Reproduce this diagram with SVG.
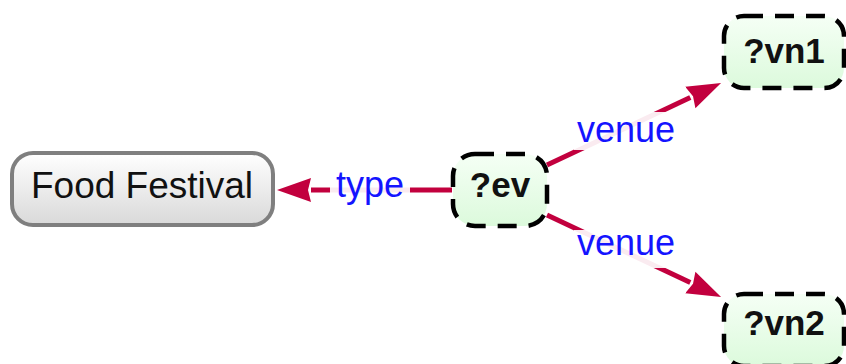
<svg xmlns="http://www.w3.org/2000/svg" width="846" height="364" viewBox="0 0 846 364">
  <defs>
    <linearGradient id="gradClass" x1="0" y1="0" x2="0" y2="1">
      <stop offset="0" stop-color="#ffffff"/>
      <stop offset="1" stop-color="#d9d9d9"/>
    </linearGradient>
    <linearGradient id="gradVar" x1="0" y1="0" x2="0" y2="1">
      <stop offset="0" stop-color="#f5fff5"/>
      <stop offset="1" stop-color="#dcfadc"/>
    </linearGradient>
    <marker id="arrow" markerUnits="userSpaceOnUse" markerWidth="36" markerHeight="28" viewBox="0 -14 36 28" refX="0" refY="0" orient="auto">
      <path d="M0,-12 L34,0 L0,12 L3,0 Z" fill="#c2003e"/>
    </marker>
  </defs>
  <style>
    .edge { fill: none; stroke: #c2003e; stroke-width: 5; marker-end: url(#arrow); }
    .lblbg { fill: #ffffff; fill-opacity: 0.92; }
    .lbl { font-family: "Liberation Sans", Arial, sans-serif; font-size: 36px; fill: #1414ff; text-anchor: middle; }
    .cls { fill: url(#gradClass); stroke: #7f7f7f; stroke-width: 4; }
    .var { fill: url(#gradVar); stroke: #000000; stroke-width: 4.5; stroke-dasharray: 19 12; }
    .clstxt { font-family: "Liberation Sans", Arial, sans-serif; font-size: 37px; fill: #111111; text-anchor: middle; }
    .vartxt { font-family: "Liberation Sans", Arial, sans-serif; font-size: 35px; font-weight: bold; fill: #111111; text-anchor: middle; }
  </style>

  <g id="connectors">
    <g id="edge-type">
      <path class="edge" d="M452,190 L311,190"/>
      <rect class="lblbg" x="330" y="172" width="80" height="36"/>
      <text class="lbl" x="370" y="197">type</text>
    </g>
    <g id="edge-venue1">
      <path class="edge" d="M547,165 L690.3,97.5"/>
      <rect class="lblbg" x="574" y="112" width="104" height="38"/>
      <text class="lbl" x="626" y="142">venue</text>
    </g>
    <g id="edge-venue2">
      <path class="edge" d="M547,215 L690.3,282.5"/>
      <rect class="lblbg" x="574" y="230" width="104" height="38"/>
      <text class="lbl" x="626" y="255">venue</text>
    </g>
  </g>

  <g id="node-food-festival">
    <rect class="cls" x="12" y="153" width="261" height="72" rx="21"/>
    <text class="clstxt" x="142" y="198">Food Festival</text>
  </g>
  <g id="node-ev">
    <rect class="var" x="453" y="154" width="94" height="72" rx="22"/>
    <text class="vartxt" x="500" y="197">?ev</text>
  </g>
  <g id="node-vn1">
    <rect class="var" x="724" y="16" width="120" height="72" rx="20"/>
    <text class="vartxt" x="784" y="63">?vn1</text>
  </g>
  <g id="node-vn2">
    <rect class="var" x="724" y="294" width="120" height="72" rx="20"/>
    <text class="vartxt" x="784" y="335">?vn2</text>
  </g>
</svg>
